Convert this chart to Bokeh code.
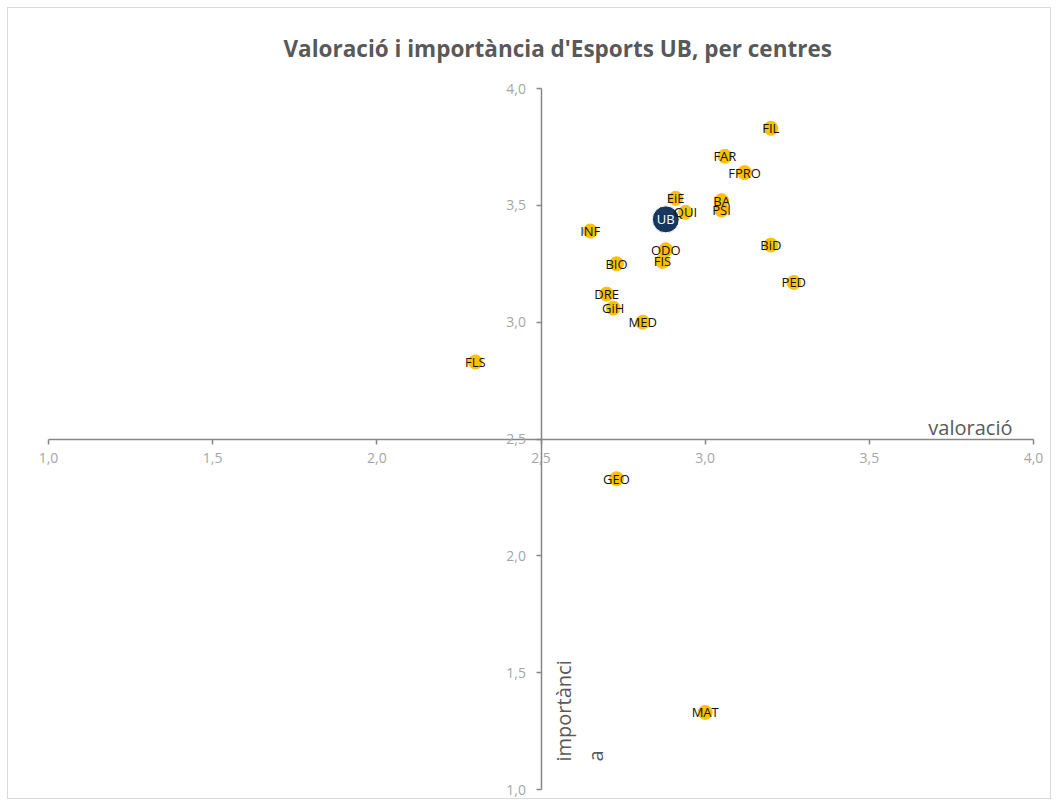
import math
from bokeh.plotting import figure
from bokeh.models import ColumnDataSource, Label, CustomJSTickFormatter, FixedTicker, Range1d
from bokeh.core.properties import value
from bokeh.embed import file_html
from bokeh.resources import INLINE

# ---- data ----
centres = ["FIL", "FAR", "FPRO", "EiE", "QUI", "BA", "PSI", "INF", "BiD", "ODO",
           "FIS", "BIO", "PED", "DRE", "GiH", "MED", "FLS", "GEO", "MAT"]
valoracio = [3.20, 3.06, 3.12, 2.91, 2.94, 3.05, 3.05, 2.65, 3.20, 2.88,
             2.87, 2.73, 3.27, 2.70, 2.72, 2.81, 2.30, 2.73, 3.00]
importancia = [3.83, 3.71, 3.64, 3.53, 3.47, 3.52, 3.48, 3.39, 3.33, 3.31,
               3.26, 3.25, 3.17, 3.12, 3.06, 3.00, 2.83, 2.33, 1.33]
ub_label = ["UB"]
ub_valoracio = [2.88]
ub_importancia = [3.44]
ticks = [1.0, 1.5, 2.0, 2.5, 3.0, 3.5, 4.0]

FONT = "Open Sans"
GREY_AXIS = "#868686"
GREY_TICK = "#A6A6A6"
GREY_TEXT = "#595959"

# layout: axis scale in pixels per unit, with a little padding so tick labels aren't clipped
PX_X = 985 / 3.0
PX_Y = 701 / 3.0
FRAME_W, FRAME_H = 1024, 730
LEFT, RIGHT, TOP = 14, 6, 62
x_start = 1.0 - 26 / PX_X
y_end = 4.0 + 18 / PX_Y
x_range = Range1d(x_start, x_start + FRAME_W / PX_X)
y_range = Range1d(y_end - FRAME_H / PX_Y, y_end)

p = figure(width=LEFT + FRAME_W + RIGHT, height=TOP + FRAME_H,
           output_backend="svg", toolbar_location=None,
           x_range=x_range, y_range=y_range,
           min_border_left=LEFT, min_border_right=RIGHT, min_border_top=TOP, min_border_bottom=0,
           background_fill_color="white", border_fill_color="white")
p.styles = {"border": "1px solid #D9D9D9", "margin": "7px 0 0 7px"}
p.outline_line_color = None
p.grid.visible = False

p.title.text = "Valoració i importància d'Esports UB, per centres"
p.title.text_font = FONT
p.title.text_font_size = "22.5px"
p.title.text_font_style = "bold"
p.title.text_color = GREY_TEXT
p.title.align = "left"
p.title.offset = 261
p.title.standoff = 13

fmt = CustomJSTickFormatter(code="return tick.toFixed(1).replace('.', ',')")
for ax in (p.xaxis[0], p.yaxis[0]):
    ax.fixed_location = 2.5
    ax.bounds = (1.0, 4.0)
    ax.ticker = FixedTicker(ticks=ticks)
    ax.formatter = fmt
    ax.axis_line_color = GREY_AXIS
    ax.axis_line_width = 1.5
    ax.major_tick_line_color = GREY_AXIS
    ax.major_tick_line_width = 1.5
    ax.major_tick_out = 5
    ax.major_tick_in = 0
    ax.minor_tick_line_color = None
    ax.major_label_text_font = FONT
    ax.major_label_text_font_size = "14px"
    ax.major_label_text_color = GREY_TICK
p.xaxis.major_label_standoff = 9
p.yaxis.major_label_standoff = 10

src = ColumnDataSource(dict(x=valoracio, y=importancia, name=centres))
ub = ColumnDataSource(dict(x=ub_valoracio, y=ub_importancia, name=ub_label))

p.scatter("x", "y", source=src, size=14, fill_color="#FFC000", line_color="#FFC000")
p.scatter("x", "y", source=ub, size=27, fill_color="#17375E", line_color="white", line_width=1)
p.text("x", "y", text="name", source=src, text_align="center", text_baseline="middle",
       text_font=value(FONT), text_font_size="13px", text_color="#111111")
p.text("x", "y", text="name", source=ub, text_align="center", text_baseline="middle",
       text_font=value(FONT), text_font_size="13px", text_color="white")

p.add_layout(Label(x=3.936, y=2.55, text="valoració", text_align="right",
                   text_baseline="alphabetic", text_font=FONT, text_font_size="20px",
                   text_color=GREY_TEXT))
p.add_layout(Label(x=2.569, y=1.12, text="importànci", angle=math.pi / 2, text_align="left",
                   text_baseline="alphabetic", text_font=FONT, text_font_size="20px",
                   text_color=GREY_TEXT))
p.add_layout(Label(x=2.666, y=1.12, text="a", angle=math.pi / 2, text_align="left",
                   text_baseline="alphabetic", text_font=FONT, text_font_size="20px",
                   text_color=GREY_TEXT))

open("out.html", "w").write(file_html(p, INLINE))
